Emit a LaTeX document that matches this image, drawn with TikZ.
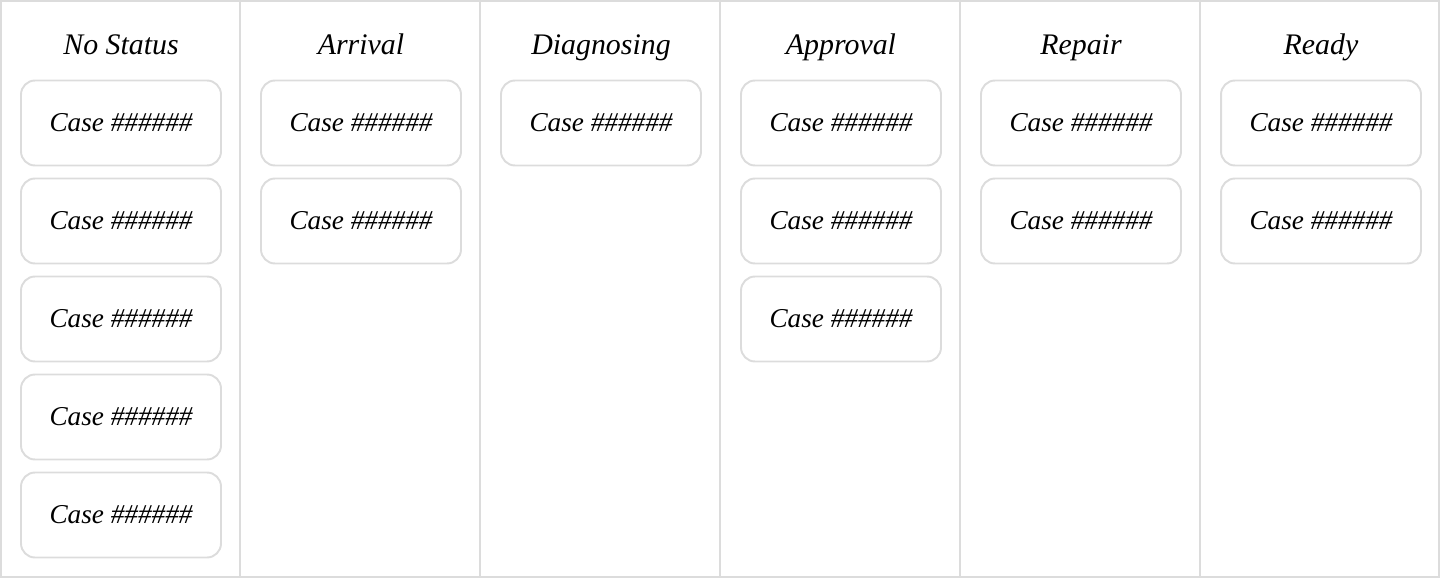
\documentclass[tikz,border=0pt]{standalone}
\usepackage{fontspec}
\setmainfont{Liberation Serif}
\definecolor{boardgray}{HTML}{DCDCDC}

\begin{document}
\begin{tikzpicture}[x=0.02cm,y=-0.02cm,
  card/.style={draw=boardgray, line width=1.1pt, rounded corners=0.28cm,
    minimum width=4cm, minimum height=1.7cm, inner sep=0pt,
    font=\fontsize{15.5}{18}\selectfont\itshape},
  coltitle/.style={anchor=base, font=\fontsize{17}{20}\selectfont\itshape}]
\useasboundingbox (0,0) rectangle (1440,578);
\draw[boardgray, line width=1.1pt] (1,1) rectangle (1439,577);
%\draw[step=20,gray,very thin] (0,0) grid (1440,578);
\foreach \i in {1,...,5}
  \draw[boardgray, line width=1.1pt] (240*\i,0) -- (240*\i,578);
\foreach \t/\n [count=\c from 0] in {No Status/5, Arrival/2, Diagnosing/1, Approval/3, Repair/2, Ready/2} {
  \node[coltitle] (title\c) at (240*\c+121,54) {\t};
  \foreach \k in {1,...,\n}
    \node[card] (card\c-\k) at (240*\c+121,25+98*\k) {Case \#\#\#\#\#\#};
}
\end{tikzpicture}
\end{document}
